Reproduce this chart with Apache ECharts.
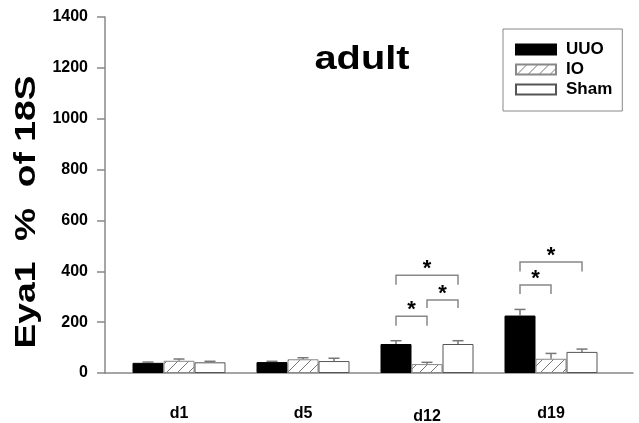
<!DOCTYPE html>
<html>
<head>
<meta charset="utf-8">
<script src="https://cdn.jsdelivr.net/npm/echarts@6/dist/echarts.min.js"></script>
<style>
  html, body { margin: 0; padding: 0; background: #fff; }
  #chart { width: 639px; height: 423px; }
</style>
</head>
<body>
<div id="chart"></div>
<script>
// Time points and group names
const days = ['d1', 'd5', 'd12', 'd19'];
const groups = ['UUO', 'IO', 'Sham'];

// Eya1 expression (% of 18S), mean and SEM per group
const uuoMean = [40, 43, 114, 226];
const uuoErr = [3, 3, 13, 24];
const ioMean = [48, 54, 35, 56];
const ioErr = [7, 6, 7, 21];
const shamMean = [42, 47, 114, 83];
const shamErr = [4, 11, 13, 11];

// Y axis ticks
const yMin = 0;
const yMax = 1400;
const yStep = 200;

// Significance brackets: [day index, first bar, second bar, bracket top, leg bottom]
const brackets = [
  [2, 0, 1, 223, 186],
  [2, 1, 2, 287, 256],
  [2, 0, 2, 384, 347],
  [3, 0, 1, 346, 311],
  [3, 0, 2, 437, 399]
];

const FONT = 'Liberation Sans, Arial, sans-serif';

// Diagonal hatch fill for the IO bars
function makeHatch() {
  const s = 11;
  const c = document.createElement('canvas');
  c.width = s; c.height = s;
  const g = c.getContext('2d');
  g.fillStyle = '#fff';
  g.fillRect(0, 0, s, s);
  g.strokeStyle = '#777';
  g.lineWidth = 1;
  g.beginPath();
  g.moveTo(-1, s + 1); g.lineTo(s + 1, -1);
  g.moveTo(-1, 1); g.lineTo(1, -1);
  g.moveTo(s - 1, s + 1); g.lineTo(s + 1, s - 1);
  g.stroke();
  return c;
}
const hatch = { image: makeHatch(), repeat: 'repeat' };

const BAR_FRAC = 0.25;

function barCenter(api, day, barIdx, val) {
  const p = api.coord([day, val]);
  const band = api.size([1, 0])[0];
  return [p[0] + (barIdx - 1) * band * BAR_FRAC, p[1]];
}

function errorSeries(barIdx, means, errs) {
  return {
    type: 'custom',
    xAxisIndex: 1,
    yAxisIndex: 1,
    silent: true,
    z: 3,
    data: days.map((d, i) => [i, means[i], errs[i]]),
    renderItem: function (params, api) {
      const day = api.value(0);
      const m = api.value(1);
      const e = api.value(2);
      const lo = barCenter(api, day, barIdx, m);
      const hi = barCenter(api, day, barIdx, m + e);
      const half = 5.5;
      const style = { stroke: '#777', lineWidth: 1.5 };
      return {
        type: 'group',
        children: [
          { type: 'line', shape: { x1: lo[0], y1: lo[1], x2: hi[0], y2: hi[1] }, style: style },
          { type: 'line', shape: { x1: hi[0] - half, y1: hi[1], x2: hi[0] + half, y2: hi[1] }, style: style }
        ]
      };
    }
  };
}

const chart = echarts.init(document.getElementById('chart'), null, { renderer: 'canvas' });

const option = {
  animation: false,
  backgroundColor: '#fff',
  graphic: [
    {
      type: 'text',
      x: 362, y: 60,
      scaleX: 1.17,
      style: {
        text: 'adult',
        font: 'bold 34px ' + FONT,
        fill: '#000',
        align: 'center',
        verticalAlign: 'middle'
      }
    },
    {
      type: 'text',
      x: 27, y: 212,
      rotation: Math.PI / 2,
      scaleX: 1.24,
      style: {
        text: 'Eya1  %  of 18S',
        font: 'bold 30px ' + FONT,
        fill: '#000',
        align: 'center',
        verticalAlign: 'middle'
      }
    }
  ],
  legend: {
    orient: 'vertical',
    left: 503,
    top: 29,
    padding: [12, 10, 13, 12],
    borderColor: '#888',
    borderWidth: 1,
    icon: 'rect',
    itemWidth: 40,
    itemHeight: 10,
    itemGap: 3,
    data: groups,
    textStyle: {
      fontFamily: FONT,
      fontWeight: 'bold',
      fontSize: 17,
      lineHeight: 17,
      color: '#000',
      padding: [0, 0, 0, 5]
    }
  },
  grid: [
    { left: 105, right: 6, top: 17, bottom: 50, outerBoundsMode: 'none', containLabel: false },
    { left: 117, right: 26, top: 17, bottom: 50, outerBoundsMode: 'none', containLabel: false }
  ],
  xAxis: [
    {
      gridIndex: 0,
      type: 'value',
      min: 0, max: 1,
      axisLine: { show: true, lineStyle: { color: '#888', width: 1.5 } },
      axisTick: { show: false },
      axisLabel: { show: false },
      splitLine: { show: false }
    },
    {
      gridIndex: 1,
      type: 'category',
      data: days.map((d, i) => i === 2 ? { value: d, textStyle: { padding: [3, 0, 0, 0] } } : d),
      axisLine: { show: false },
      axisTick: { show: false },
      axisLabel: {
        margin: 33,
        fontFamily: FONT,
        fontWeight: 'bold',
        fontSize: 16,
        color: '#000'
      },
      splitLine: { show: false }
    }
  ],
  yAxis: [
    {
      gridIndex: 0,
      type: 'value',
      min: yMin, max: yMax, interval: yStep,
      axisLine: { show: true, lineStyle: { color: '#888', width: 1.5 } },
      axisTick: { show: true, inside: false, length: 8, lineStyle: { color: '#888', width: 1.5 } },
      axisLabel: {
        margin: 17,
        fontFamily: FONT,
        fontWeight: 'bold',
        fontSize: 16,
        color: '#000',
        formatter: function (v) { return String(v); }
      },
      splitLine: { show: false }
    },
    {
      gridIndex: 1,
      type: 'value',
      min: yMin, max: yMax, interval: yStep,
      show: false
    }
  ],
  series: [
    {
      name: 'UUO',
      type: 'bar',
      xAxisIndex: 1, yAxisIndex: 1,
      barWidth: (BAR_FRAC * 100) + '%',
      barGap: '0%',
      data: uuoMean,
      itemStyle: { color: '#000', borderColor: '#000', borderWidth: 1 }
    },
    {
      name: 'IO',
      type: 'bar',
      xAxisIndex: 1, yAxisIndex: 1,
      barWidth: (BAR_FRAC * 100) + '%',
      barGap: '0%',
      data: ioMean,
      itemStyle: { color: hatch, borderColor: '#888', borderWidth: 1 }
    },
    {
      name: 'Sham',
      type: 'bar',
      xAxisIndex: 1, yAxisIndex: 1,
      barWidth: (BAR_FRAC * 100) + '%',
      barGap: '0%',
      data: shamMean,
      itemStyle: { color: '#fff', borderColor: '#555', borderWidth: 1 }
    },
    errorSeries(0, uuoMean, uuoErr),
    errorSeries(1, ioMean, ioErr),
    errorSeries(2, shamMean, shamErr),
    {
      type: 'custom',
      xAxisIndex: 1, yAxisIndex: 1,
      silent: true,
      z: 4,
      data: brackets,
      renderItem: function (params, api) {
        const day = api.value(0);
        const a = api.value(1);
        const b = api.value(2);
        const top = api.value(3);
        const leg = api.value(4);
        const pa = barCenter(api, day, a, top);
        const pb = barCenter(api, day, b, top);
        const yLeg = api.coord([day, leg])[1];
        const style = { stroke: '#888', lineWidth: 1.5, fill: null };
        return {
          type: 'group',
          children: [
            {
              type: 'polyline',
              shape: { points: [[pa[0], yLeg], [pa[0], pa[1]], [pb[0], pb[1]], [pb[0], yLeg]] },
              style: style
            },
            {
              type: 'text',
              x: (pa[0] + pb[0]) / 2,
              y: pa[1] + 5,
              style: {
                text: '*',
                font: 'bold 22px ' + FONT,
                fill: '#000',
                align: 'center',
                verticalAlign: 'bottom'
              }
            }
          ]
        };
      }
    }
  ]
};

chart.setOption(option);
</script>
</body>
</html>
